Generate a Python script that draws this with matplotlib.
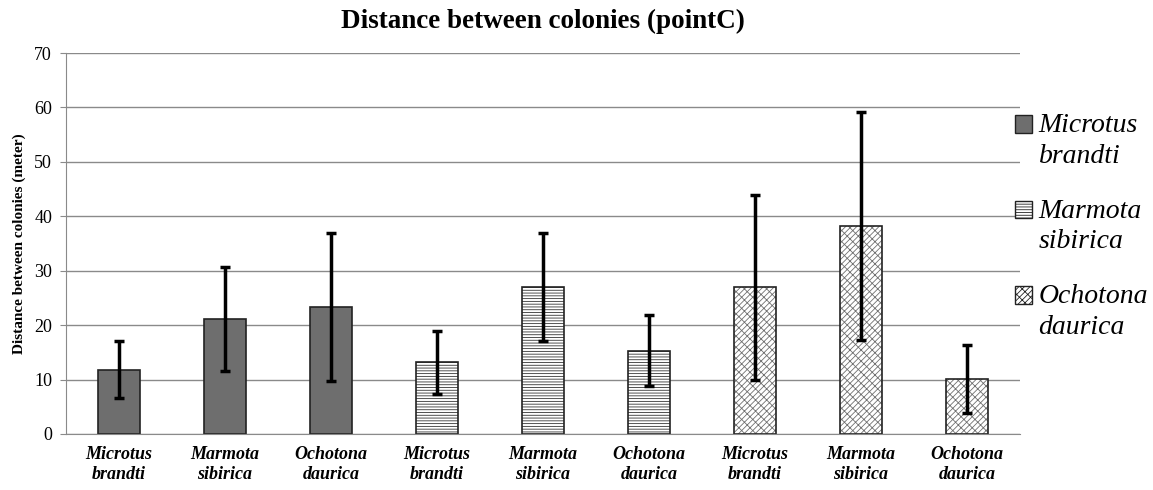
# -*- coding: utf-8 -*-
import matplotlib
matplotlib.use('Agg')
import matplotlib.pyplot as plt
from matplotlib.patches import Rectangle
from matplotlib.legend_handler import HandlerPatch
import numpy as np

plt.rcParams['font.family'] = ['Liberation Serif', 'DejaVu Serif']
plt.rcParams['hatch.linewidth'] = 0.6

# data
species = ['Microtus\nbrandti', 'Marmota\nsibirica', 'Ochotona\ndaurica']
legend_names = ['Microtus\nbrandti', 'Marmota\nsibirica', 'Ochotona\ndaurica']
# one group of three bars per colony species
group1_mean = [11.8, 21.1, 23.4]
group1_err = [5.2, 9.6, 13.6]
group2_mean = [13.2, 27.0, 15.3]
group2_err = [5.8, 10.0, 6.5]
group3_mean = [27.0, 38.2, 10.1]
group3_err = [17.0, 21.0, 6.3]

fig = plt.figure(figsize=(11.53, 4.9), dpi=100)
ax = fig.add_axes([0.0572, 0.1143, 0.8275, 0.7775])

groups = [(group1_mean, group1_err), (group2_mean, group2_err), (group3_mean, group3_err)]
styles = [
    dict(color='#6e6e6e', hatch=None, hcol='#222222'),
    dict(color='white', hatch='------', hcol='#333333'),
    dict(color='white', hatch='//////\\\\\\', hcol='#707070'),
]

x = np.arange(9)
for g, (means, errs) in enumerate(groups):
    st = styles[g]
    xs = x[g * 3:g * 3 + 3]
    # fill + hatch, then the dark outline on top
    ax.bar(xs, means, width=0.4, color=st['color'], edgecolor=st['hcol'],
           linewidth=0, hatch=st['hatch'], zorder=2)
    ax.bar(xs, means, width=0.4, color='none', edgecolor='#222222',
           linewidth=1.2, zorder=2)
    ax.errorbar(xs, means, yerr=errs, fmt='none', ecolor='black',
                elinewidth=2.5, capsize=3.5, capthick=2.5, zorder=3)

ax.set_xlim(-0.5, 8.5)
ax.set_ylim(0, 70)
ax.set_yticks(range(0, 71, 10))
ax.yaxis.grid(True, color='#8a8a8a', linewidth=1.0, zorder=0)
ax.set_axisbelow(True)
ax.set_xticks(x)
ax.set_xticklabels(species * 3, fontsize=13, fontweight='bold', style='italic',
                   linespacing=1.2)
ax.tick_params(axis='x', length=0, pad=9)
ax.tick_params(axis='y', length=4, color='#8a8a8a', labelsize=13, pad=6)
for s in ['top', 'right']:
    ax.spines[s].set_visible(False)
ax.spines['left'].set_color('#8a8a8a')
ax.spines['bottom'].set_color('#8a8a8a')

ax.set_ylabel('Distance between colonies (meter)', fontsize=11, fontweight='bold', labelpad=6)
ax.set_title('Distance between colonies (pointC)', fontsize=19.5, fontweight='bold', pad=18)

# legend handles: one proxy patch per group, same look as the bars
handles = [Rectangle((0, 0), 1, 1, facecolor=st['color'], edgecolor='#222222',
                     linewidth=1.0, hatch=st['hatch']) for st in styles]


# legend box sits at the first text line, not in the middle
def top_patch(legend, orig_handle, xdescent, ydescent, width, height, fontsize):
    return Rectangle((-xdescent, -ydescent + 0.6 * fontsize), width, height)


leg = ax.legend(handles, legend_names, loc='center left', bbox_to_anchor=(0.983, 0.545),
                frameon=False, prop={'size': 20, 'style': 'italic'},
                handlelength=0.6, handleheight=0.6, handletextpad=0.25,
                labelspacing=1.08, borderaxespad=0,
                handler_map={Rectangle: HandlerPatch(patch_func=top_patch)})
for t in leg.get_texts():
    t.set_linespacing(1.3)

fig.savefig('out.png', dpi=100)
